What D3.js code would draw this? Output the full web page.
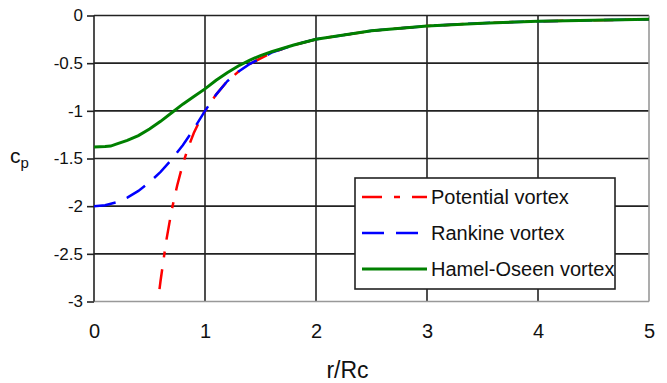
<!DOCTYPE html>
<html>
<head>
<meta charset="utf-8">
<script src="https://cdn.jsdelivr.net/npm/d3@7"></script>
<style>
  body { margin: 0; background: #fff; }
  text { font-family: "Liberation Sans", Arial, sans-serif; fill: #111; }
</style>
</head>
<body>
<div id="chart"></div>
<script>
// values (r/Rc, cp)
const potentialR  = [0.59, 0.6, 0.65, 0.7, 0.75, 0.8, 0.85, 0.9, 0.95, 1.0, 1.1, 1.2, 1.3, 1.4, 1.6, 1.8, 2.0, 2.5, 3.0, 3.5, 4.0, 4.5, 5.0];
const potentialCp = [-2.87, -2.78, -2.37, -2.04, -1.78, -1.56, -1.38, -1.23, -1.11, -1.0, -0.83, -0.69, -0.59, -0.51, -0.39, -0.31, -0.25, -0.16, -0.11, -0.08, -0.06, -0.05, -0.04];

const rankineR  = [0, 0.1, 0.2, 0.3, 0.4, 0.5, 0.6, 0.7, 0.8, 0.9, 1.0, 1.1, 1.2, 1.3, 1.4, 1.6, 1.8, 2.0, 2.5, 3.0, 3.5, 4.0, 4.5, 5.0];
const rankineCp = [-2.0, -1.99, -1.96, -1.91, -1.84, -1.75, -1.64, -1.51, -1.36, -1.19, -1.0, -0.83, -0.69, -0.59, -0.51, -0.39, -0.31, -0.25, -0.16, -0.11, -0.08, -0.06, -0.05, -0.04];

const oseenR  = [0, 0.1, 0.15, 0.2, 0.3, 0.4, 0.5, 0.6, 0.7, 0.8, 0.9, 1.0, 1.1, 1.2, 1.3, 1.4, 1.5, 1.6, 1.8, 2.0, 2.5, 3.0, 3.5, 4.0, 4.5, 5.0];
const oseenCp = [-1.38, -1.375, -1.37, -1.35, -1.31, -1.26, -1.19, -1.11, -1.02, -0.93, -0.85, -0.77, -0.68, -0.60, -0.53, -0.47, -0.42, -0.38, -0.31, -0.25, -0.16, -0.11, -0.08, -0.06, -0.05, -0.04];

const seriesNames = ["Potential vortex", "Rankine vortex", "Hamel-Oseen vortex"];
const xTicks = [0, 1, 2, 3, 4, 5];
const yTicks = [0, -0.5, -1, -1.5, -2, -2.5, -3];

const W = 667, H = 383;
const margin = {top: 15.5, right: 18, bottom: 81.5, left: 94};
const width = W - margin.left - margin.right;
const height = H - margin.top - margin.bottom;

const svg = d3.select("#chart").append("svg")
    .attr("width", W)
    .attr("height", H);

const g = svg.append("g")
    .attr("transform", "translate(" + margin.left + "," + margin.top + ")");

const x = d3.scaleLinear().domain([0, 5]).range([0, width]);
const y = d3.scaleLinear().domain([-3, 0]).range([height, 0]);

// grid
g.selectAll(".vgrid").data(xTicks.slice(1, -1)).enter()
    .append("line")
    .attr("x1", d => x(d)).attr("x2", d => x(d))
    .attr("y1", 0).attr("y2", height)
    .attr("stroke", "#222").attr("stroke-width", 1.6);

g.selectAll(".hgrid").data(yTicks.slice(0, -1)).enter()
    .append("line")
    .attr("x1", 0).attr("x2", width)
    .attr("y1", d => y(d)).attr("y2", d => y(d))
    .attr("stroke", "#222").attr("stroke-width", 1.6);

// bottom & right border in grey
g.append("line").attr("x1", 0).attr("x2", width).attr("y1", height).attr("y2", height)
    .attr("stroke", "#999").attr("stroke-width", 1.6);
g.append("line").attr("x1", width).attr("x2", width).attr("y1", 0).attr("y2", height)
    .attr("stroke", "#999").attr("stroke-width", 1.6);

// y axis
const yAxis = d3.axisLeft(y).tickValues(yTicks).tickSize(7).tickFormat(d => d3.format("")(d).replace("−", "-"));
const yg = g.append("g").call(yAxis);
yg.select(".domain").remove();
yg.append("line").attr("x1", 0).attr("x2", 0).attr("y1", 0).attr("y2", height)
    .attr("stroke", "#222").attr("stroke-width", 1.6);
yg.selectAll(".tick line").attr("stroke", "#222").attr("stroke-width", 1.6);
yg.selectAll(".tick text")
    .attr("x", -11)
    .style("font-size", "17px")
    .style("font-family", "'Liberation Sans', Arial, sans-serif")
    .attr("fill", "#111");

// x axis labels
const xAxis = d3.axisBottom(x).tickValues(xTicks).tickSize(0).tickFormat(d3.format("d"));
const xg = g.append("g").attr("transform", "translate(0," + height + ")").call(xAxis);
xg.select(".domain").remove();
xg.selectAll(".tick text")
    .attr("y", 22)
    .style("font-size", "20px")
    .style("font-family", "'Liberation Sans', Arial, sans-serif")
    .attr("fill", "#111");

// axis titles
svg.append("text")
    .attr("x", margin.left + x(2.5) - 24)
    .attr("y", 378)
    .attr("text-anchor", "middle")
    .style("font-size", "23px")
    .text("r/Rc");

const cp = svg.append("text")
    .attr("x", 10)
    .attr("y", 163)
    .style("font-size", "21px");
cp.append("tspan").text("c");
cp.append("tspan").attr("dy", 5).style("font-size", "15px").text("p");

// curves
const line = d3.line().x(d => x(d[0])).y(d => y(d[1]));

const series = [
    {pts: d3.zip(potentialR, potentialCp), color: "#ff0000", dash: "20,12,6,12", w: 2.5},
    {pts: d3.zip(rankineR, rankineCp), color: "#0000ff", dash: "22,12", w: 2.5},
    {pts: d3.zip(oseenR, oseenCp), color: "#008000", dash: null, w: 3}
];

const clip = g.append("clipPath").attr("id", "plot-clip");
clip.append("rect").attr("x", 0).attr("y", -2).attr("width", width).attr("height", height + 2);

const curves = g.append("g").attr("clip-path", "url(#plot-clip)");
series.forEach(s => {
    curves.append("path")
        .attr("d", line(s.pts))
        .attr("fill", "none")
        .attr("stroke", s.color)
        .attr("stroke-width", s.w)
        .attr("stroke-dasharray", s.dash);
});

// legend
const legend = svg.append("g").attr("transform", "translate(355,178)");
legend.append("rect")
    .attr("width", 260).attr("height", 111)
    .attr("fill", "#fff")
    .attr("stroke", "#222").attr("stroke-width", 1.6);

series.forEach((s, i) => {
    const row = legend.append("g").attr("transform", "translate(0," + (19 + i * 36) + ")");
    row.append("line")
        .attr("x1", 7).attr("x2", 72)
        .attr("stroke", s.color)
        .attr("stroke-width", s.w)
        .attr("stroke-dasharray", s.dash);
    row.append("text")
        .attr("x", 76)
        .attr("y", 7)
        .style("font-size", "20px")
        .text(seriesNames[i]);
});
</script>
</body>
</html>
